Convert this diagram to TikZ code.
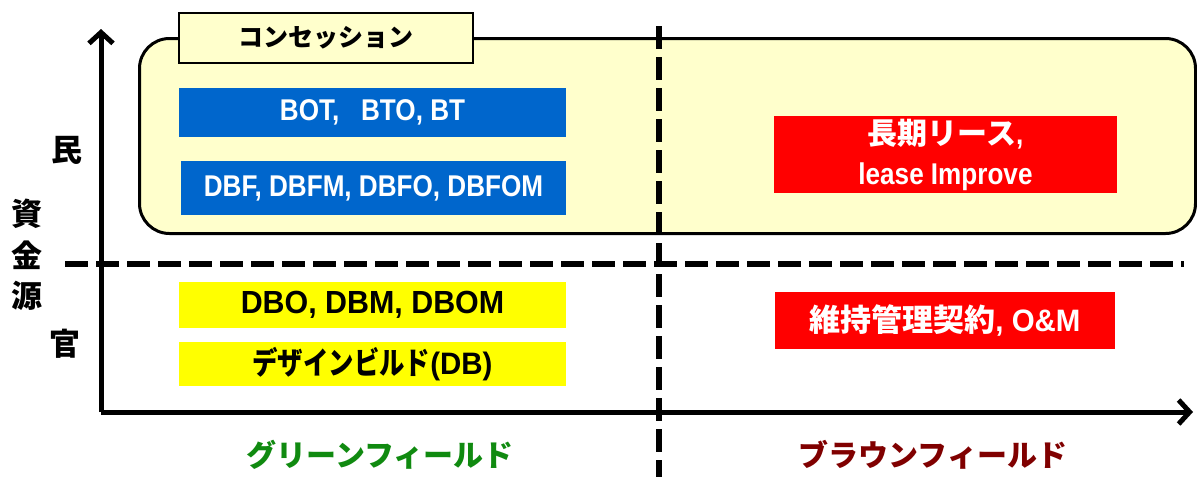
\documentclass[tikz,border=0pt]{standalone}
\usepackage{fontspec}
\setmainfont{Liberation Sans}
\newfontfamily\latn[FakeStretch=0.87]{Liberation Sans}
\newfontfamily\latw[FakeStretch=0.95]{Liberation Sans}
\newfontfamily\cjk{Noto Sans CJK JP}
\newfontfamily\cjkn[FakeStretch=0.82]{Noto Sans CJK JP}
\usetikzlibrary{arrows.meta}
\definecolor{pale}{HTML}{FFFFCC}
\definecolor{bluefill}{HTML}{0066CC}
\definecolor{redfill}{HTML}{FF0000}
\definecolor{yelfill}{HTML}{FFFF00}
\definecolor{greentext}{HTML}{108A10}
\definecolor{browntext}{HTML}{800000}
\begin{document}
\begin{tikzpicture}[x=1pt,y=-1pt,
  box/.style={inner sep=0pt, draw=none, text=white, align=center},
  bluebox/.style={box, fill=bluefill, font={\latn\bfseries\fontsize{30}{36}\selectfont}},
  redbox/.style={box, fill=redfill},
  yelbox/.style={box, fill=yelfill, text=black},
  divider/.style={line width=6pt, dash pattern=on 23pt off 8pt},
  axis/.style={line width=5pt, -{Straight Barb[length=11pt,width=24pt]}},
  side/.style={font={\cjk\bfseries\fontsize{31}{31}\selectfont}, inner sep=0pt},
  fieldlabel/.style={font={\cjk\bfseries\fontsize{30}{30}\selectfont}, inner sep=0pt},
]
\useasboundingbox (0,0) rectangle (1197,477);

% concession region
\node[draw, line width=3pt, fill=pale, rounded corners=30pt,
      minimum width=1056pt, minimum height=195pt, inner sep=0pt] (conc) at (667.5,136) {};
\node[draw, line width=2pt, fill=pale, minimum width=294pt, minimum height=50pt,
      inner sep=0pt, font={\cjk\bfseries\fontsize{25}{25}\selectfont}] (conclabel) at (326,38) {コンセッション};

% blue boxes
\node[bluebox, minimum width=387pt, minimum height=49pt] (bot) at (372.5,112.5) {BOT,\ \ \ BTO, BT};
\node[bluebox, minimum width=385pt, minimum height=54pt] (dbf) at (373.5,188) {DBF, DBFM, DBFO, DBFOM};

% yellow boxes
\node[yelbox, minimum width=387pt, minimum height=46pt,
      font={\latw\bfseries\fontsize{32}{36}\selectfont}] (dbo) at (372.5,305) {DBO, DBM, DBOM};
\node[yelbox, minimum width=387pt, minimum height=44pt] (db) at (372.5,364)
  {{\cjkn\bfseries\fontsize{31}{31}\selectfont デザインビルド}{\latw\bfseries\fontsize{31}{31}\selectfont (DB)}};

% red boxes
\node[redbox, minimum width=343pt, minimum height=77pt,
      font={\latn\bfseries\fontsize{30}{40}\selectfont}] (lease) at (945.5,154.5)
  {{\cjk 長期リース}{\latn ,}\\
   {\latn lease Improve}};
\node[redbox, minimum width=340pt, minimum height=57pt] (om) at (945,320)
  {{\cjk\bfseries\fontsize{31}{31}\selectfont 維持管理契約}{\latw\bfseries\fontsize{31}{31}\selectfont , O\&M}};

% dividers
\coordinate (hdl) at (65,264);
\coordinate (hdr) at (1184,264);
\coordinate (vdt) at (659,26);
\coordinate (vdb) at (659,477);
\draw[divider] (hdl) -- (hdr);
\draw[divider] (vdt) -- (vdb);

% axes
\coordinate (origin) at (101,412);
\coordinate (ytop) at (101,29);
\coordinate (xend) at (1193,412);
\draw[axis] (origin) -- (ytop);
\draw[axis] (origin) -- (xend);

% side labels
\node[side] (min) at (67,150) {民};
\node[side] (shi) at (27,214) {資};
\node[side] (kin) at (27,255) {金};
\node[side] (gen) at (27,296) {源};
\node[side] (kan) at (65,344) {官};

% bottom labels
\node[fieldlabel, text=greentext] (green) at (380,455) {グリーンフィールド};
\node[fieldlabel, text=browntext] (brown) at (933,455) {ブラウンフィールド};
\end{tikzpicture}
\end{document}
